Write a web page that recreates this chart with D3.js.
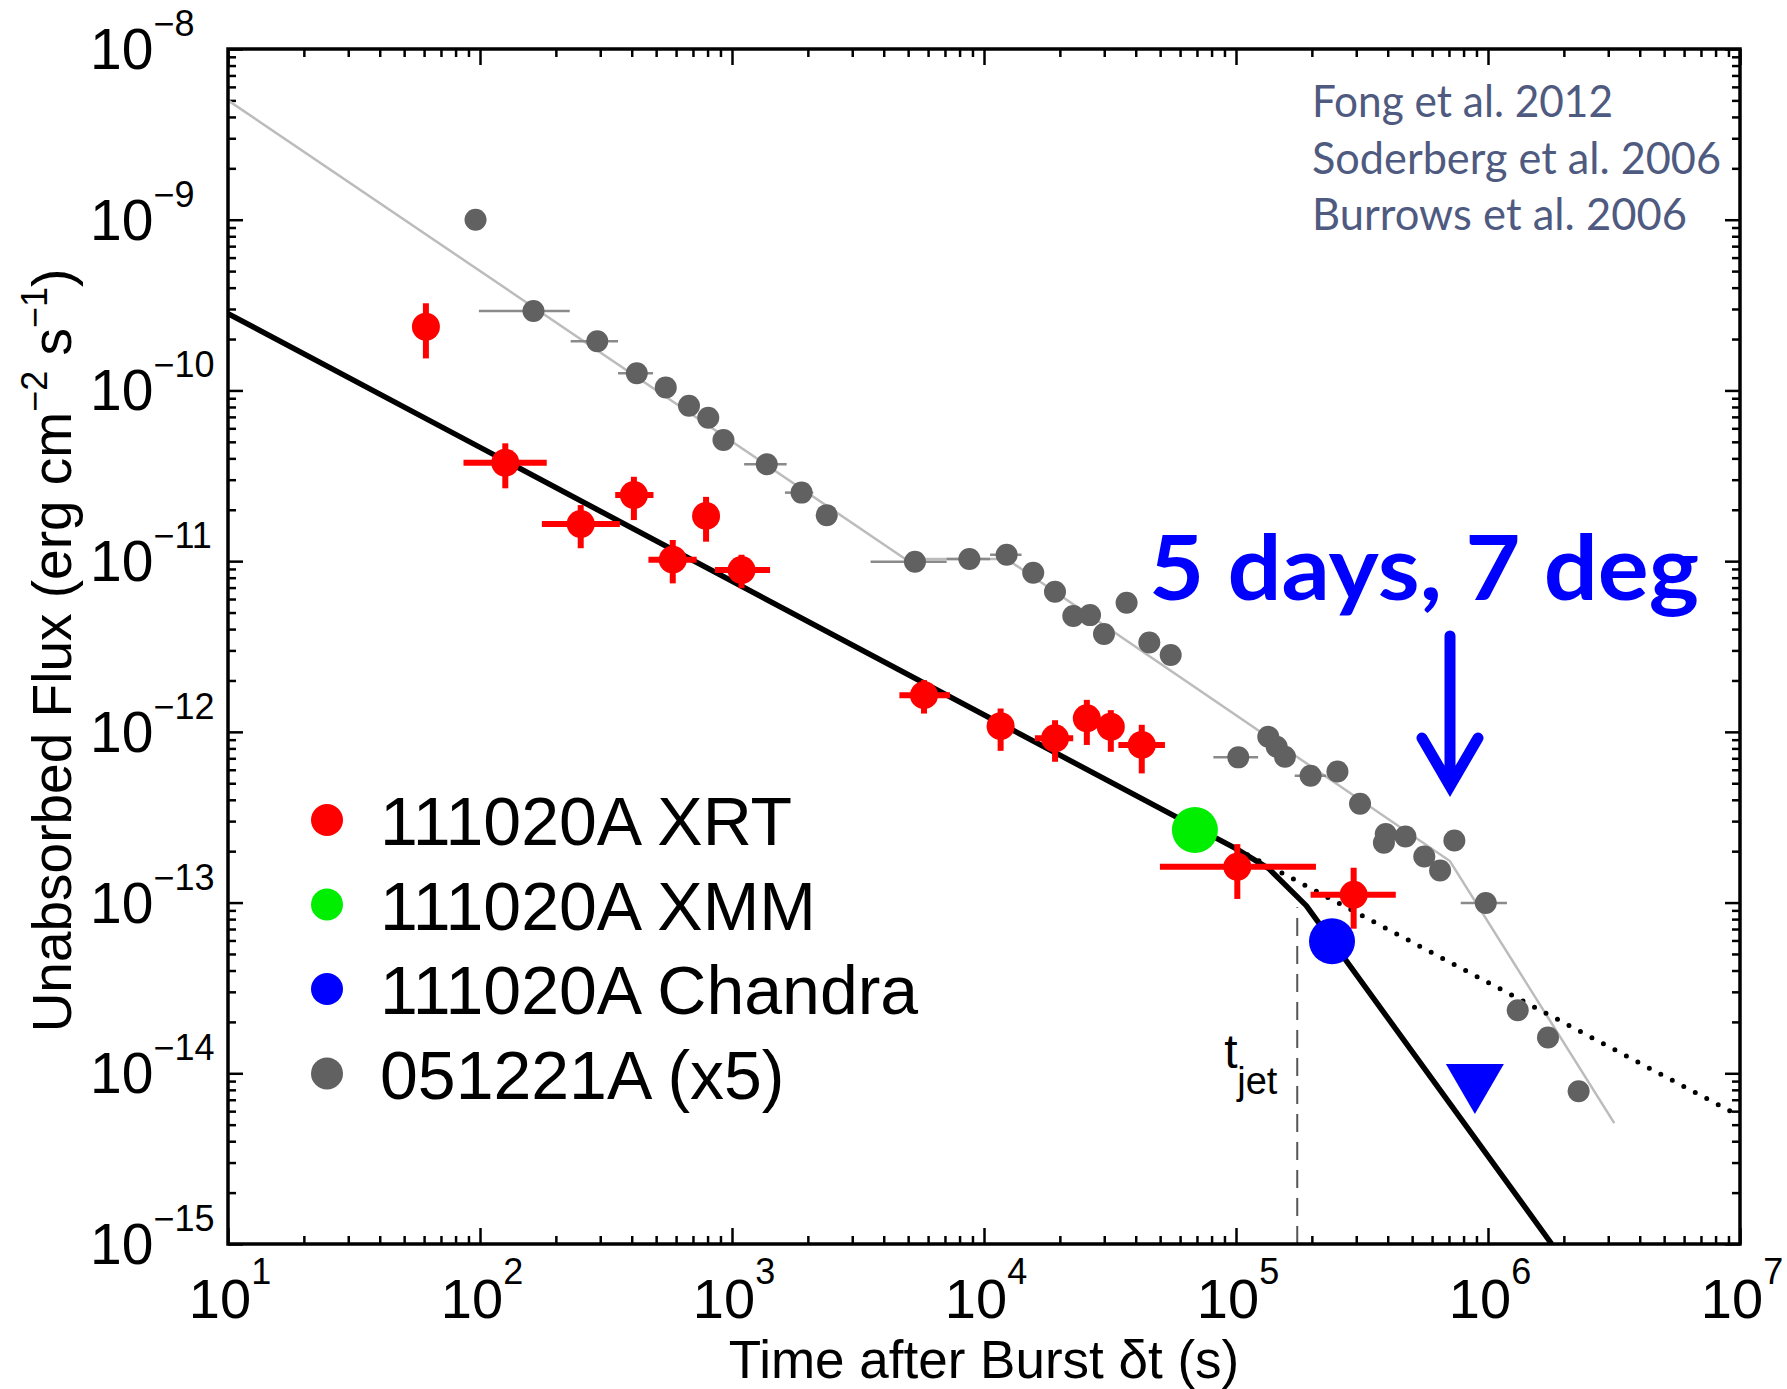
<!DOCTYPE html>
<html>
<head>
<meta charset="utf-8">
<script src="https://cdn.jsdelivr.net/npm/d3@7"></script>
<style>
  html, body { margin: 0; padding: 0; background: #fff; }
  svg { display: block; }
  .ax text, text.lab { font-family: "Liberation Sans", Arial, Helvetica, sans-serif; fill: #000; }
  .note { font-family: Lato, "Open Sans", sans-serif; }
</style>
</head>
<body>
<div id="chart"></div>
<script>
const width = 1787;
const height = 1389;

// tick decades (exponents)
const xDecades = [1, 2, 3, 4, 5, 6, 7];
const yDecades = [-8, -9, -10, -11, -12, -13, -14, -15];

// 111020A XRT: [t, flux, tLo, tHi, fluxLo, fluxHi]
const xrtData = [
  [61, 2.36e-10, null, null, 1.54e-10, 3.24e-10],
  [126, 3.77e-11, 86, 184, 2.67e-11, 4.9e-11],
  [251, 1.65e-11, 176, 359, 1.19e-11, 2.13e-11],
  [408, 2.44e-11, 344, 488, 1.74e-11, 3.12e-11],
  [582, 1.02e-11, 466, 724, 7.41e-12, 1.33e-11],
  [789, 1.84e-11, null, null, 1.3e-11, 2.38e-11],
  [1091, 8.87e-12, 855, 1416, 6.94e-12, 1.09e-11],
  [5780, 1.64e-12, 4616, 7328, 1.28e-12, 2.01e-12],
  [11640, 1.08e-12, null, null, 7.74e-13, 1.37e-12],
  [19140, 9.16e-13, 15920, 22600, 6.68e-13, 1.17e-12],
  [25590, 1.2e-12, null, null, 8.38e-13, 1.54e-12],
  [31860, 1.07e-12, null, null, 7.64e-13, 1.34e-12],
  [42270, 8.38e-13, 34130, 52240, 5.71e-13, 1.1e-12],
  [101200, 1.62e-13, 49900, 207600, 1.05e-13, 2.2e-13],
  [293000, 1.11e-13, 197700, 430600, 7.03e-14, 1.6e-13],
];

// 111020A XMM and Chandra
const xmmData = [[68700, 2.66e-13]];
const chandraData = [[240400, 5.94e-14]];
const chandraLimit = [[887000, 9.0e-15]];

// 051221A (x5): [t, flux, tLo, tHi]
const grbData = [
  [96, 1.0e-9], [163, 2.92e-10, 99, 227], [292, 1.94e-10, 229, 353],
  [419, 1.26e-10, 353, 486], [546, 1.04e-10], [675, 8.13e-11],
  [805, 6.92e-11], [925, 5.13e-11], [1374, 3.69e-11, 1117, 1648],
  [1888, 2.52e-11, 1622, 2100], [2376, 1.86e-11, 2168, 2600],
  [5321, 9.93e-12, 3548, 7110], [8750, 1.03e-11, 7110, 10570],
  [12300, 1.09e-11, 10570, 14090], [15680, 8.55e-12], [19130, 6.62e-12],
  [22610, 4.77e-12], [26350, 4.83e-12], [29930, 3.74e-12], [36800, 5.7e-12],
  [45290, 3.34e-12], [55070, 2.82e-12], [102100, 7.09e-13, 81300, 122400],
  [134300, 9.35e-13], [145000, 8.18e-13], [156400, 7.14e-13],
  [197700, 5.53e-13, 171000, 228000], [252700, 5.86e-13], [310600, 3.79e-13],
  [386300, 2.24e-13], [392900, 2.52e-13], [470300, 2.44e-13],
  [558700, 1.86e-13], [645500, 1.54e-13], [735400, 2.31e-13],
  [979700, 9.95e-14, 779500, 1189000], [1312000, 2.34e-14],
  [1730000, 1.62e-14], [2289000, 7.85e-15],
];

// model curves
const model051221 = [[10, 5.0e-9], [4870, 1.03e-11], [12300, 1.03e-11], [706000, 1.75e-13], [3170000, 5.1e-15]];
const model111020 = [[10, 2.82e-10], [100000, 2.07e-13], [135000, 1.58e-13], [190000, 9.6e-14], [1790000, 1e-15]];
const model111020NoBreak = [[100000, 2.07e-13], [1e7, 5.6e-15]];
const tJet = [[175000, 1e-15], [175000, 9.4e-14]];

const legendLabels = ["111020A XRT", "111020A XMM", "111020A Chandra", "051221A (x5)"];
const legendColors = ["#ff0000", "#00ee00", "#0000ff", "#616161"];
const citations = ["Fong et al. 2012", "Soderberg et al. 2006", "Burrows et al. 2006"];
const citationWidths = [301, 409, 375];

const svg = d3.select("#chart").append("svg")
  .attr("width", width).attr("height", height);
svg.append("rect").attr("width", width).attr("height", height).attr("fill", "#fff");

const x = d3.scaleLog().domain([1e1, 1e7]).range([228, 1740]);
const y = d3.scaleLog().domain([1e-15, 1e-8]).range([1244, 49]);
const [x0, x1] = x.range();
const [y1, y0] = y.range();

svg.append("clipPath").attr("id", "clip")
  .append("rect").attr("x", x0).attr("y", y0).attr("width", x1 - x0).attr("height", y1 - y0);

// minor ticks 2..9 per decade
const xMinor = [];
xDecades.slice(0, -1).forEach((e) => { for (let m = 2; m < 10; m++) xMinor.push(m * Math.pow(10, e)); });
const yMinor = [];
yDecades.slice(1).forEach((e) => { for (let m = 2; m < 10; m++) yMinor.push(m * Math.pow(10, e)); });
const xMajor = xDecades.map((e) => Math.pow(10, e));
const yMajor = yDecades.map((e) => Math.pow(10, e));

function addAxis(axisFn, scale, values, size, tx, ty) {
  const g = svg.append("g").attr("class", "ax")
    .attr("transform", `translate(${tx},${ty})`)
    .call(axisFn(scale).tickValues(values).tickSize(-size).tickFormat(""));
  g.select(".domain").remove();
  g.selectAll(".tick line").attr("stroke", "#000").attr("stroke-width", 2.5);
}
addAxis(d3.axisBottom, x, xMajor, 16, 0, y1);
addAxis(d3.axisBottom, x, xMinor, 8, 0, y1);
addAxis(d3.axisTop, x, xMajor, 16, 0, y0);
addAxis(d3.axisTop, x, xMinor, 8, 0, y0);
addAxis(d3.axisLeft, y, yMajor, 15, x0, 0);
addAxis(d3.axisLeft, y, yMinor, 8, x0, 0);
addAxis(d3.axisRight, y, yMajor, 15, x1, 0);
addAxis(d3.axisRight, y, yMinor, 8, x1, 0);

// tick labels 10^n
const xl = svg.append("g").attr("class", "ax");
xDecades.forEach((e) => {
  const t = xl.append("text").attr("x", x(Math.pow(10, e)) + 2).attr("y", y1 + 74)
    .attr("text-anchor", "middle").attr("font-size", 56);
  t.append("tspan").text("10");
  t.append("tspan").attr("dy", -34).attr("font-size", 36).text(String(e).replace("-", "\u2212"));
});
const yl = svg.append("g").attr("class", "ax");
yDecades.forEach((e) => {
  const t = yl.append("text").attr("x", 90).attr("y", y(Math.pow(10, e)) + 20)
    .attr("font-size", 57);
  t.append("tspan").text("10");
  t.append("tspan").attr("dy", -33).attr("font-size", 36).text(String(e).replace("-", "\u2212"));
});

// axis titles
svg.append("text").attr("class", "lab").attr("x", (x0 + x1) / 2).attr("y", 1378)
  .attr("text-anchor", "middle").attr("font-size", 53).text("Time after Burst \u03b4t (s)");
const yt = svg.append("text").attr("class", "lab")
  .attr("transform", `translate(71,${(y0 + y1) / 2 + 4}) rotate(-90)`)
  .attr("text-anchor", "middle").attr("font-size", 55);
yt.append("tspan").text("Unabsorbed Flux (erg cm");
yt.append("tspan").attr("dy", -24).attr("font-size", 36).text("\u22122");
yt.append("tspan").attr("dy", 24).text(" s");
yt.append("tspan").attr("dy", -24).attr("font-size", 36).text("\u22121");
yt.append("tspan").attr("dy", 24).text(")");

const line = d3.line().x((d) => x(d[0])).y((d) => y(d[1]));
const plot = svg.append("g").attr("clip-path", "url(#clip)");

// t_jet marker
plot.append("path").attr("d", line(tJet)).attr("fill", "none")
  .attr("stroke", "#555").attr("stroke-width", 2).attr("stroke-dasharray", "18,10");
svg.append("text").attr("class", "lab").attr("x", x(tJet[0][0]) - 73).attr("y", 1068)
  .attr("font-size", 48).text("t");
svg.append("text").attr("class", "lab").attr("x", x(tJet[0][0]) - 60).attr("y", 1094)
  .attr("font-size", 38).text("jet");

// model lines
plot.append("path").attr("d", line(model051221)).attr("fill", "none")
  .attr("stroke", "#bcbcbc").attr("stroke-width", 2.5);
plot.append("path").attr("d", line(model111020NoBreak)).attr("fill", "none")
  .attr("stroke", "#000").attr("stroke-width", 5).attr("stroke-linecap", "round")
  .attr("stroke-dasharray", "0,13");
plot.append("path").attr("d", line(model111020)).attr("fill", "none")
  .attr("stroke", "#000").attr("stroke-width", 5.5).attr("stroke-linejoin", "round");

// 051221A points
const gg = plot.append("g");
gg.selectAll("line").data(grbData.filter((d) => d[2])).join("line")
  .attr("x1", (d) => x(d[2])).attr("x2", (d) => x(d[3]))
  .attr("y1", (d) => y(d[1])).attr("y2", (d) => y(d[1]))
  .attr("stroke", "#8a8a8a").attr("stroke-width", 2.5);
gg.selectAll("circle").data(grbData).join("circle")
  .attr("cx", (d) => x(d[0])).attr("cy", (d) => y(d[1])).attr("r", 11)
  .attr("fill", "#616161");

// XRT points
const rg = plot.append("g");
rg.selectAll("line.xe").data(xrtData.filter((d) => d[2])).join("line").attr("class", "xe")
  .attr("x1", (d) => x(d[2])).attr("x2", (d) => x(d[3]))
  .attr("y1", (d) => y(d[1])).attr("y2", (d) => y(d[1]))
  .attr("stroke", "#ff0000").attr("stroke-width", 6);
rg.selectAll("line.ye").data(xrtData).join("line").attr("class", "ye")
  .attr("x1", (d) => x(d[0])).attr("x2", (d) => x(d[0]))
  .attr("y1", (d) => y(d[4])).attr("y2", (d) => y(d[5]))
  .attr("stroke", "#ff0000").attr("stroke-width", 6);
rg.selectAll("circle").data(xrtData).join("circle")
  .attr("cx", (d) => x(d[0])).attr("cy", (d) => y(d[1])).attr("r", 14)
  .attr("fill", "#ff0000");

// XMM, Chandra
plot.selectAll("circle.xmm").data(xmmData).join("circle").attr("class", "xmm")
  .attr("cx", (d) => x(d[0])).attr("cy", (d) => y(d[1])).attr("r", 23).attr("fill", "#00ee00");
plot.selectAll("circle.cxo").data(chandraData).join("circle").attr("class", "cxo")
  .attr("cx", (d) => x(d[0])).attr("cy", (d) => y(d[1])).attr("r", 23).attr("fill", "#0000ff");
plot.selectAll("path.lim").data(chandraLimit).join("path").attr("class", "lim")
  .attr("d", (d) => {
    const cx = x(d[0]), cy = y(d[1]);
    return `M${cx - 29},${cy - 17}L${cx + 29},${cy - 17}L${cx},${cy + 33}Z`;
  })
  .attr("fill", "#0000ff");

// frame
svg.append("rect").attr("x", x0).attr("y", y0).attr("width", x1 - x0).attr("height", y1 - y0)
  .attr("fill", "none").attr("stroke", "#000").attr("stroke-width", 3.5);

// legend
const lg = svg.append("g");
legendLabels.forEach((lab, i) => {
  const cy = 820 + i * 84.5;
  lg.append("circle").attr("cx", 327).attr("cy", cy).attr("r", 16).attr("fill", legendColors[i]);
  lg.append("text").attr("class", "lab").attr("x", 380).attr("y", cy + 25)
    .attr("font-size", 68).text(lab);
});

// citations
citations.forEach((c, i) => {
  svg.append("text").attr("class", "note").attr("x", 1312).attr("y", 117 + i * 56.5)
    .attr("font-size", 45).attr("fill", "#4f5a80")
    .attr("textLength", citationWidths[i]).attr("lengthAdjust", "spacingAndGlyphs")
    .text(c);
});

// annotation
svg.append("text").attr("class", "note").attr("x", 1149).attr("y", 600)
  .attr("font-size", 90).attr("font-weight", "bold").attr("fill", "#0000ff")
  .attr("textLength", 550).attr("lengthAdjust", "spacingAndGlyphs")
  .text("5 days, 7 deg");
svg.append("path").attr("d", "M1450,636L1450,786M1422,738L1450,786L1478,738")
  .attr("fill", "none").attr("stroke", "#0000ff").attr("stroke-width", 11)
  .attr("stroke-linecap", "round").attr("stroke-linejoin", "miter");
</script>
</body>
</html>
